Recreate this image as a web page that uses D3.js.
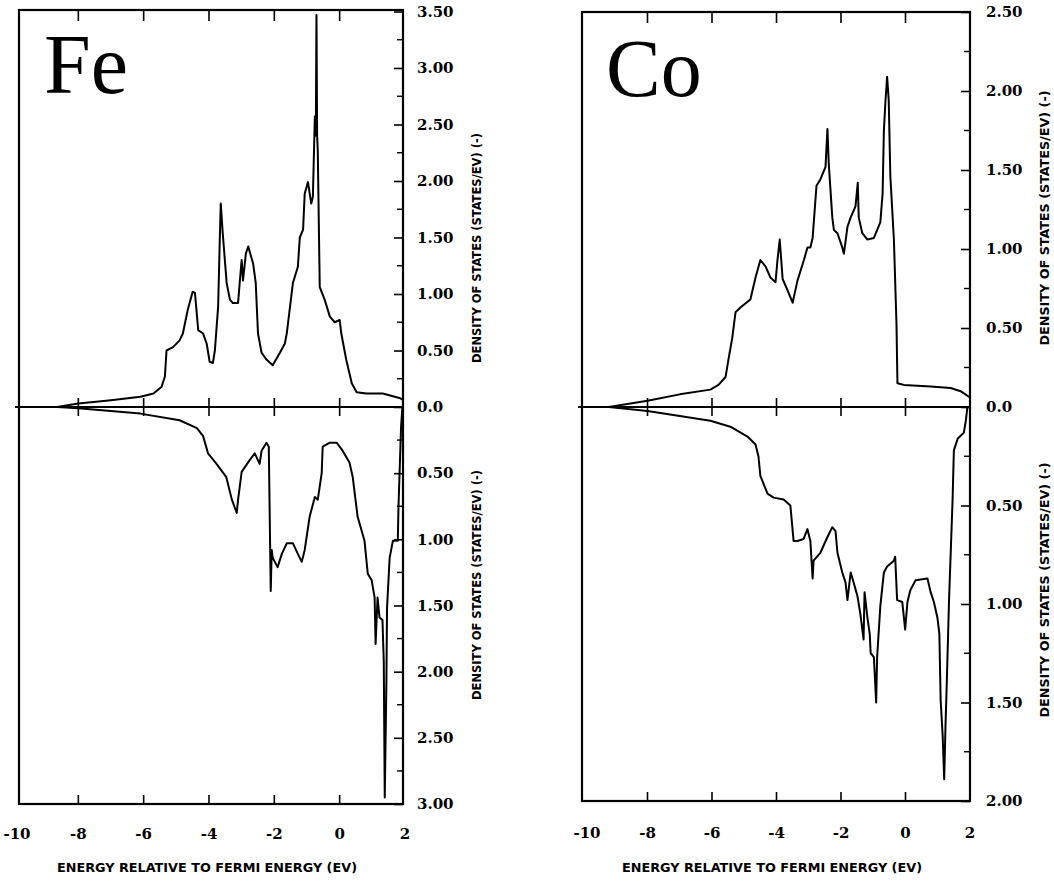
<!DOCTYPE html>
<html>
<head>
<meta charset="utf-8">
<script src="https://cdn.jsdelivr.net/npm/d3@7"></script>
<style>
  body { margin: 0; background: #fff; }
  svg { display: block; }
</style>
</head>
<body>
<svg id="fig" width="1054" height="886"></svg>
<script>
// ---- Data: spin-resolved density of states (states/eV) vs energy relative to E_F (eV) ----
const energyTicks = [-10, -8, -6, -4, -2, 0, 2];
const energyTickLabels = ["-10", "-8", "-6", "-4", "-2", "0", "2"];

// Fe, majority spin (upper half)
const feMajorityEnergy = [-8.65,-8.0,-7.0,-6.1,-5.7,-5.45,-5.35,-5.3,-5.1,-4.9,-4.8,-4.65,-4.5,-4.43,-4.33,-4.18,-4.07,-3.98,-3.88,-3.82,-3.72,-3.67,-3.64,-3.58,-3.46,-3.36,-3.27,-3.11,-3.06,-3.0,-2.96,-2.87,-2.8,-2.65,-2.57,-2.5,-2.39,-2.24,-2.05,-1.83,-1.68,-1.62,-1.43,-1.28,-1.22,-1.12,-1.07,-0.97,-0.87,-0.82,-0.76,-0.73,-0.71,-0.69,-0.67,-0.61,-0.46,-0.3,-0.15,0.0,0.05,0.2,0.37,0.52,0.82,1.32,1.83,1.95];
const feMajorityDos    = [0,0.03,0.06,0.09,0.12,0.18,0.27,0.50,0.53,0.59,0.65,0.86,1.02,1.01,0.68,0.65,0.56,0.40,0.39,0.50,0.89,1.48,1.80,1.54,1.10,0.95,0.92,0.92,1.10,1.30,1.12,1.36,1.42,1.27,1.10,0.65,0.48,0.42,0.37,0.48,0.56,0.65,1.10,1.24,1.50,1.57,1.89,1.99,1.80,1.86,2.57,2.40,3.47,2.40,2.27,1.06,0.95,0.80,0.75,0.77,0.65,0.42,0.21,0.13,0.12,0.12,0.08,0.06];

// Fe, minority spin (lower half, plotted downward)
const feMinorityEnergy = [-8.65,-8.0,-6.1,-4.9,-4.37,-4.18,-4.03,-3.77,-3.47,-3.3,-3.15,-3.11,-3.0,-2.75,-2.6,-2.45,-2.39,-2.24,-2.17,-2.11,-2.08,-2.05,-1.9,-1.77,-1.62,-1.43,-1.28,-1.16,-1.07,-0.92,-0.76,-0.67,-0.55,-0.52,-0.3,-0.09,0.09,0.3,0.4,0.55,0.76,0.86,0.98,1.07,1.1,1.16,1.22,1.31,1.35,1.38,1.43,1.45,1.53,1.63,1.78,1.8,1.84,1.88,1.92];
const feMinorityDos    = [0,0.01,0.05,0.10,0.16,0.22,0.35,0.43,0.53,0.70,0.80,0.70,0.49,0.40,0.35,0.43,0.33,0.27,0.30,1.39,1.08,1.14,1.21,1.11,1.03,1.03,1.11,1.17,1.08,0.83,0.68,0.70,0.50,0.30,0.27,0.27,0.33,0.42,0.53,0.83,1.01,1.26,1.31,1.44,1.79,1.44,1.59,1.61,1.92,2.95,2.09,1.52,1.14,1.01,1.01,0.76,0.45,0.15,0];

// Co, majority spin (upper half)
const coMajorityEnergy = [-9.2,-8.0,-7.0,-6.05,-5.8,-5.58,-5.49,-5.37,-5.27,-5.12,-4.81,-4.65,-4.5,-4.34,-4.19,-4.03,-3.97,-3.9,-3.81,-3.66,-3.5,-3.35,-3.15,-3.04,-2.95,-2.88,-2.76,-2.64,-2.48,-2.42,-2.38,-2.27,-2.22,-2.11,-1.96,-1.91,-1.8,-1.7,-1.55,-1.48,-1.45,-1.34,-1.18,-0.98,-0.88,-0.78,-0.71,-0.67,-0.62,-0.57,-0.52,-0.47,-0.36,-0.28,-0.25,-0.05,0.78,1.4,1.71,2.0];
const coMajorityDos    = [0,0.04,0.08,0.11,0.14,0.19,0.30,0.44,0.60,0.63,0.68,0.82,0.93,0.89,0.82,0.79,0.93,1.06,0.81,0.74,0.66,0.80,0.93,1.01,1.01,1.07,1.40,1.44,1.52,1.76,1.54,1.20,1.12,1.10,1.01,0.97,1.14,1.20,1.27,1.42,1.20,1.10,1.06,1.07,1.12,1.17,1.35,1.75,1.94,2.09,1.94,1.46,1.06,0.53,0.15,0.14,0.13,0.12,0.10,0.06];

// Co, minority spin (lower half, plotted downward)
const coMinorityEnergy = [-9.2,-8.0,-6.05,-5.43,-4.9,-4.65,-4.56,-4.5,-4.4,-4.28,-4.09,-3.78,-3.57,-3.47,-3.35,-3.16,-3.04,-2.95,-2.88,-2.85,-2.64,-2.42,-2.27,-2.17,-2.11,-1.96,-1.86,-1.8,-1.7,-1.61,-1.49,-1.4,-1.3,-1.27,-1.18,-1.11,-1.08,-0.98,-0.91,-0.88,-0.78,-0.67,-0.57,-0.36,-0.32,-0.26,-0.1,-0.01,0.06,0.15,0.31,0.68,0.78,0.88,0.99,1.05,1.09,1.15,1.2,1.24,1.28,1.35,1.46,1.5,1.62,1.81,1.87,1.92];
const coMinorityDos    = [0,0.02,0.07,0.10,0.15,0.19,0.25,0.35,0.39,0.44,0.46,0.47,0.50,0.68,0.68,0.67,0.62,0.68,0.87,0.78,0.74,0.66,0.61,0.63,0.74,0.84,0.89,0.98,0.84,0.89,0.96,1.05,1.18,0.94,1.07,1.15,1.25,1.27,1.50,1.27,1.01,0.84,0.81,0.78,0.76,0.98,0.99,1.13,0.99,0.93,0.88,0.87,0.94,0.99,1.07,1.15,1.49,1.66,1.89,1.62,1.40,0.98,0.47,0.22,0.16,0.13,0.07,0];

// DOS axis ticks (labelled) for each half-panel
const feUpperTicks = [0, 0.5, 1.0, 1.5, 2.0, 2.5, 3.0, 3.5];
const feLowerTicks = [0.5, 1.0, 1.5, 2.0, 2.5, 3.0];
const coUpperTicks = [0, 0.5, 1.0, 1.5, 2.0, 2.5];
const coLowerTicks = [0.5, 1.0, 1.5, 2.0];

const elementNames = ["Fe", "Co"];
const energyAxisTitle = "ENERGY RELATIVE TO FERMI ENERGY (EV)";
const dosAxisTitle = "DENSITY OF STATES (STATES/EV) (-)";

// ---- Layout of the two panels ----
const panels = [
  {
    name: elementNames[0],
    majE: feMajorityEnergy, majD: feMajorityDos,
    minE: feMinorityEnergy, minD: feMinorityDos,
    upTicks: feUpperTicks, lowTicks: feLowerTicks,
    upMax: 3.5, lowMax: 3.0,
    xRange: [13, 405], frameLeft: 19, frameRight: 403,
    top: 10, zero: 407, bottom: 804, upTopPx: 11.5,
    nameX: 44, nameY: 93, nameSize: 84,
    labelPad: 14, tickLabelY: 834,
    xTitleX: 207, xTitleY: 872,
    yTitleX: 477, yTitleUp: 248, yTitleLow: 585, yTitleLen: 230
  },
  {
    name: elementNames[1],
    majE: coMajorityEnergy, majD: coMajorityDos,
    minE: coMinorityEnergy, minD: coMinorityDos,
    upTicks: coUpperTicks, lowTicks: coLowerTicks,
    upMax: 2.5, lowMax: 2.0,
    xRange: [583, 970], frameLeft: 582, frameRight: 970,
    top: 12, zero: 407, bottom: 801, upTopPx: 12,
    nameX: 606, nameY: 96, nameSize: 82,
    labelPad: 16, tickLabelY: 833,
    xTitleX: 772, xTitleY: 872,
    yTitleX: 1045, yTitleUp: 218, yTitleLow: 590, yTitleLen: 255
  }
];

const svg = d3.select("#fig");
svg.append("rect").attr("width", 1054).attr("height", 886).attr("fill", "#fff");

const serif = "Liberation Serif, Times New Roman, serif";
const labelFont = "DejaVu Serif, Liberation Serif, serif";
const sansCond = "DejaVu Sans Condensed, Liberation Sans Narrow, Liberation Sans, sans-serif";
const fmt = v => v === 0 ? "0.0" : d3.format(".2f")(v);

panels.forEach(p => {
  const g = svg.append("g");
  const x = d3.scaleLinear().domain([-10, 2]).range(p.xRange);
  const yUp = d3.scaleLinear().domain([0, p.upMax]).range([p.zero, p.upTopPx]);
  const yLow = d3.scaleLinear().domain([0, p.lowMax]).range([p.zero, p.bottom]);

  // frame
  g.append("rect")
    .attr("x", p.frameLeft).attr("y", p.top)
    .attr("width", p.frameRight - p.frameLeft).attr("height", p.bottom - p.top)
    .attr("fill", "none").attr("stroke", "#000").attr("stroke-width", 2.2);

  // zero line
  g.append("line")
    .attr("x1", p.frameLeft - 4).attr("x2", p.frameRight)
    .attr("y1", p.zero).attr("y2", p.zero)
    .attr("stroke", "#000").attr("stroke-width", 1.8);

  // energy ticks: top (down), zero line (both sides), bottom (up)
  const inner = energyTicks.filter(e => e > -10 && e < 2);
  g.append("g").selectAll("line").data(inner).join("line")
    .attr("x1", d => x(d)).attr("x2", d => x(d))
    .attr("y1", p.top).attr("y2", p.top + 11)
    .attr("stroke", "#000").attr("stroke-width", 1.6);
  g.append("g").selectAll("line").data(inner).join("line")
    .attr("x1", d => x(d)).attr("x2", d => x(d))
    .attr("y1", p.zero - 9).attr("y2", p.zero + 9)
    .attr("stroke", "#000").attr("stroke-width", 1.6);
  g.append("g").selectAll("line").data(inner).join("line")
    .attr("x1", d => x(d)).attr("x2", d => x(d))
    .attr("y1", p.bottom).attr("y2", p.bottom - 9)
    .attr("stroke", "#000").attr("stroke-width", 1.6);

  // energy tick labels
  g.append("g").selectAll("text").data(energyTicks).join("text")
    .attr("x", d => x(d) + (d === -10 ? 4 : 0))
    .attr("y", p.tickLabelY)
    .attr("dy", "0.35em")
    .attr("text-anchor", "middle")
    .style("font-family", labelFont).style("font-weight", "bold").style("font-size", "15px")
    .text((d, i) => energyTickLabels[i]);

  // DOS axes on the right border, ticks pointing inward
  const minorUp = d3.range(0.25, p.upMax, 0.5);
  const minorLow = d3.range(0.25, p.lowMax, 0.5);
  const axUp = d3.axisRight(yUp).tickValues(p.upTicks).tickSize(-9).tickPadding(p.labelPad).tickFormat(fmt);
  const axLow = d3.axisRight(yLow).tickValues(p.lowTicks).tickSize(-9).tickPadding(p.labelPad).tickFormat(fmt);
  [[axUp, minorUp, yUp], [axLow, minorLow, yLow]].forEach(([ax, minor, ys]) => {
    const a = g.append("g").attr("transform", `translate(${p.frameRight},0)`).call(ax);
    a.select(".domain").remove();
    a.selectAll(".tick line").attr("stroke", "#000").attr("stroke-width", 1.6);
    a.selectAll(".tick text")
      .style("font-family", labelFont).style("font-weight", "bold").style("font-size", "15px")
      .attr("fill", "#000");
    g.append("g").selectAll("line").data(minor).join("line")
      .attr("x1", p.frameRight - 6).attr("x2", p.frameRight)
      .attr("y1", d => ys(d)).attr("y2", d => ys(d))
      .attr("stroke", "#000").attr("stroke-width", 1.4);
  });

  // DOS curves
  const lineUp = d3.line().x(d => x(d[0])).y(d => yUp(d[1]));
  const lineLow = d3.line().x(d => x(d[0])).y(d => yLow(d[1]));
  g.append("path")
    .attr("d", lineUp(d3.zip(p.majE, p.majD)))
    .attr("fill", "none").attr("stroke", "#000").attr("stroke-width", 2)
    .attr("stroke-linejoin", "round");
  g.append("path")
    .attr("d", lineLow(d3.zip(p.minE, p.minD)))
    .attr("fill", "none").attr("stroke", "#000").attr("stroke-width", 2)
    .attr("stroke-linejoin", "round");

  // element name
  g.append("text")
    .attr("x", p.nameX).attr("y", p.nameY)
    .style("font-family", serif).style("font-size", p.nameSize + "px")
    .text(p.name);

  // axis titles
  g.append("text")
    .attr("x", p.xTitleX).attr("y", p.xTitleY)
    .attr("text-anchor", "middle")
    .style("font-family", sansCond).style("font-weight", "bold").style("font-size", "11.5px")
    .attr("textLength", 300).attr("lengthAdjust", "spacingAndGlyphs")
    .text(energyAxisTitle);
  [p.yTitleUp, p.yTitleLow].forEach(cy => {
    g.append("text")
      .attr("transform", `translate(${p.yTitleX},${cy}) rotate(-90)`)
      .attr("text-anchor", "middle")
      .attr("dy", "0.35em")
      .style("font-family", sansCond).style("font-weight", "bold").style("font-size", "12px")
      .attr("textLength", p.yTitleLen).attr("lengthAdjust", "spacingAndGlyphs")
      .text(dosAxisTitle);
  });
});
</script>
</body>
</html>
